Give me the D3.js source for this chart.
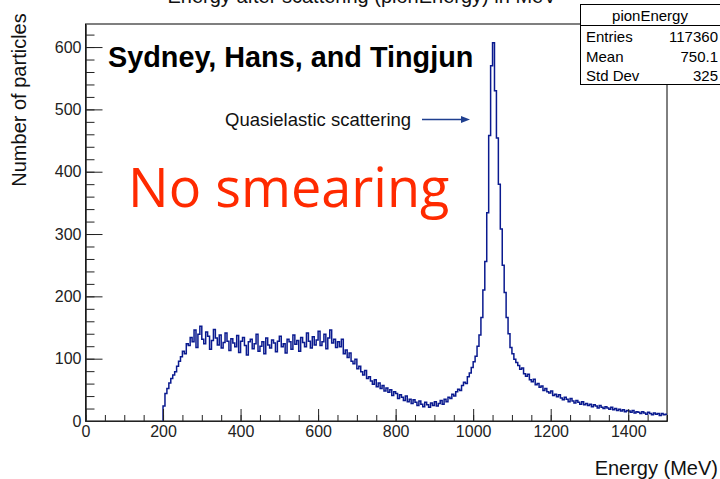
<!DOCTYPE html>
<html>
<head>
<meta charset="utf-8">
<script src="https://cdn.jsdelivr.net/npm/d3@7"></script>
<style>
  html, body { margin: 0; padding: 0; background: #fff; }
  svg { display: block; font-family: "Liberation Sans", Arial, sans-serif; }
</style>
</head>
<body>
<div id="chart"></div>
<script>
// histogram pionEnergy, 5 MeV bins starting at 200 MeV (0-200 is empty)
const binStart = 200, binWidth = 5, xMax = 1500;

const riseCounts = [24, 44, 52, 61, 68, 74, 79, 88, 96, 103, 112, 108, 124];
const plateauCounts = [
  121, 134, 127, 146, 118, 139, 152, 131, 124, 143, 136, 115, 129, 147, 133, 122,
  138, 117, 126, 141, 128, 113, 132, 125, 119, 137, 110, 128, 134, 121, 106, 127,
  131, 116, 124, 139, 112, 120, 127, 108, 133, 122, 117, 130, 125, 111, 128, 136,
  119, 124, 109, 131, 127, 115, 138, 123, 129, 112, 134, 126, 119, 141, 128, 117,
  135, 122, 130, 144, 121, 127, 139, 116, 133, 146, 125, 131, 118
];
const dipCounts = [
  127, 119, 131, 108, 114, 102, 109, 96, 92, 99, 84, 88, 79, 74, 81, 68,
  71, 64, 59, 66, 55, 61, 52, 57, 48, 53, 46, 50, 41, 47, 44, 36,
  42, 38, 33, 40, 31, 35, 28, 34, 30, 25, 32, 27, 23, 30, 26, 22,
  29, 25, 31, 24, 28, 33, 27, 35, 31, 38, 36, 43, 40, 47, 51, 49,
  57, 62, 60, 71, 77, 86
];
const peakCounts = [95, 104, 120, 138, 166, 210, 256, 334, 458, 570, 607, 530, 454, 380, 308, 250, 206, 166, 140, 118];
const tailCounts = [
  108, 99, 94, 89, 83, 85, 76, 72, 75, 66, 63, 67, 58, 60, 54, 56,
  49, 52, 47, 45, 48, 41, 43, 39, 42, 37, 34, 38, 35, 31, 36, 32,
  29, 33, 30, 27, 31, 26, 28, 25, 27, 23, 26, 24, 21, 25, 22, 20,
  23, 21, 19, 22, 18, 20, 17, 19, 16, 18, 15, 17, 16, 14, 17, 13,
  15, 14, 12, 15, 13, 11, 14, 12, 10, 13, 11, 12, 9, 12, 10, 11
];

const xTicks = [0, 200, 400, 600, 800, 1000, 1200, 1400];
const yTicks = [0, 100, 200, 300, 400, 500, 600];
const statLabels = ["Entries", "Mean", "Std Dev"];
const statValues = ["117360", "750.1", "325"];

const counts = [...riseCounts, ...plateauCounts, ...dipCounts, ...peakCounts, ...tailCounts];
const bins = counts.map((v, i) => ({ x: binStart + i * binWidth, v }));

const width = 720, height = 479;
const frame = { left: 85.5, right: 667, top: 24, bottom: 421 };

const svg = d3.select("#chart").append("svg").attr("width", width).attr("height", height);

const x = d3.scaleLinear().domain([0, xMax]).range([frame.left, frame.right]);
const y = d3.scaleLinear().domain([0, 637]).range([frame.bottom, frame.top]);

// title, cut off at the top edge like in the original
svg.append("text").attr("x", 362).attr("y", 3).attr("text-anchor", "middle")
  .attr("font-size", 20).attr("fill", "#111")
  .text("Energy after scattering (pionEnergy) in MeV");

// frame
svg.append("rect").attr("x", frame.left).attr("y", frame.top)
  .attr("width", frame.right - frame.left).attr("height", frame.bottom - frame.top)
  .attr("fill", "none").attr("stroke", "#000").attr("stroke-width", 1);

// histogram line
const pts = [{ x: binStart, v: 0 }, ...bins, { x: xMax, v: counts[counts.length - 1] }];
const line = d3.line().x(d => x(d.x)).y(d => y(d.v)).curve(d3.curveStepAfter);
svg.append("path").datum(pts).attr("d", line)
  .attr("fill", "none").attr("stroke", "#0a1a8f").attr("stroke-width", 1.5);

// axes
const gx = svg.append("g").attr("transform", `translate(0,${frame.bottom})`);
gx.call(d3.axisBottom(x).tickValues(d3.range(0, xMax + 1, 50)).tickSizeInner(-6).tickSizeOuter(0).tickFormat(""));
gx.append("g").call(d3.axisBottom(x).tickValues(xTicks).tickSizeInner(-12).tickSizeOuter(0)
  .tickPadding(5).tickFormat(d3.format("d")));

const gy = svg.append("g").attr("transform", `translate(${frame.left},0)`);
gy.call(d3.axisLeft(y).tickValues(d3.range(0, 637, 20)).tickSizeInner(-9).tickSizeOuter(0).tickFormat(""));
gy.append("g").call(d3.axisLeft(y).tickValues(yTicks).tickSizeInner(-17).tickSizeOuter(0)
  .tickPadding(4).tickFormat(d3.format("d")));

svg.selectAll(".tick text").attr("font-size", 16).attr("fill", "#222")
  .attr("font-family", "'Liberation Sans', Arial, sans-serif");
svg.selectAll(".domain, .tick line").attr("stroke", "#222");

// axis titles
svg.append("text").attr("x", 718).attr("y", 475).attr("text-anchor", "end")
  .attr("font-size", 20).attr("fill", "#111").text("Energy (MeV)");
svg.append("text").attr("transform", "translate(26,100) rotate(-90)").attr("text-anchor", "middle")
  .attr("font-size", 20).attr("fill", "#111").text("Number of particles");

// annotations
svg.append("text").attr("x", 108).attr("y", 67)
  .attr("font-size", 28.8).attr("font-weight", "bold").attr("fill", "#000")
  .text("Sydney, Hans, and Tingjun");

svg.append("text").attr("x", 128).attr("y", 207)
  .attr("font-family", "'Open Sans', sans-serif").attr("font-size", 54).attr("fill", "#ff2a00")
  .text("No smearing");

svg.append("text").attr("x", 225).attr("y", 126)
  .attr("font-size", 18.5).attr("fill", "#111").text("Quasielastic scattering");
svg.append("line").attr("x1", 422).attr("x2", 462).attr("y1", 119.5).attr("y2", 119.5)
  .attr("stroke", "#1f3f8f").attr("stroke-width", 1.5);
svg.append("path").attr("d", "M461,116 L470,119.5 L461,123 Z").attr("fill", "#1f3f8f");

// stats box
const box = svg.append("g");
box.append("rect").attr("x", 580.5).attr("y", 4.5).attr("width", 150).attr("height", 80)
  .attr("fill", "#fff").attr("stroke", "#000");
box.append("line").attr("x1", 580.5).attr("x2", 720).attr("y1", 25.5).attr("y2", 25.5).attr("stroke", "#000");
box.append("text").attr("x", 650).attr("y", 21).attr("text-anchor", "middle")
  .attr("font-size", 15).text("pionEnergy");
box.selectAll(".lab").data(statLabels).join("text").attr("class", "lab")
  .attr("x", 586).attr("y", (d, i) => 42 + i * 19.5).attr("font-size", 15).text(d => d);
box.selectAll(".val").data(statValues).join("text").attr("class", "val")
  .attr("x", 718).attr("y", (d, i) => 42 + i * 19.5).attr("text-anchor", "end")
  .attr("font-size", 15).text(d => d);
</script>
</body>
</html>
